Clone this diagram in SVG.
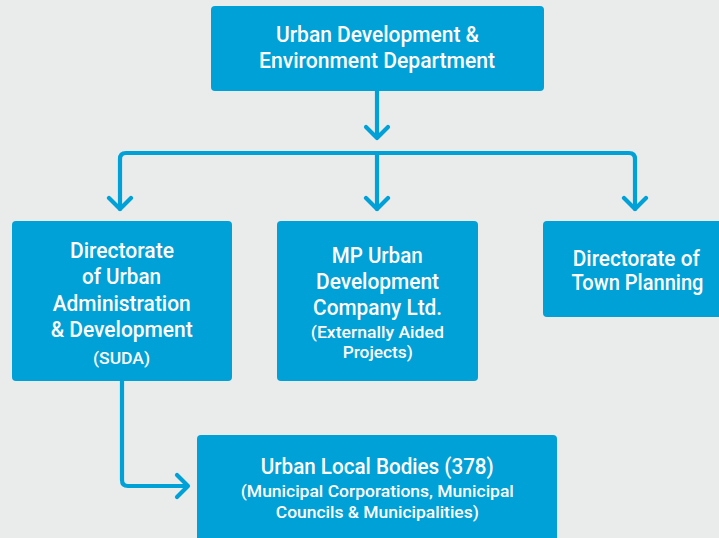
<svg xmlns="http://www.w3.org/2000/svg" width="719" height="538" viewBox="0 0 719 538">
<style>
.box{fill:#00a1d7}
.t{fill:#ffffff;font-family:Roboto,"Liberation Sans",sans-serif;font-weight:500;text-anchor:middle}
.big{font-size:21.5px}
.small{font-size:17px}
.c{fill:none;stroke:#00a1d7;stroke-width:4.2;stroke-linecap:round;stroke-linejoin:round}
</style>
<rect width="719" height="538" fill="#eaebeb"/>
<g id="connectors">
<path class="c" d="M377 91 V138 M366 127 L377 138 L388 127"/>
<path class="c" d="M120 209 V159 Q120 153 126 153 H629 Q635 153 635 159 V209"/>
<path class="c" d="M377 153 V209"/>
<path class="c" d="M109 198 L120 209 L131 198 M366 198 L377 209 L388 198 M624 198 L635 209 L646 198"/>
<path class="c" d="M122 381 V480 Q122 486 128 486 H188 M177 475 L188 486 L177 497"/>
</g>
<g id="node-top">
<rect class="box" x="211" y="6" width="333" height="85" rx="4"/>
<text class="t big" x="377.5" y="41.7" textLength="203" lengthAdjust="spacingAndGlyphs">Urban Development &amp;</text>
<text class="t big" x="377" y="67.7" textLength="236" lengthAdjust="spacingAndGlyphs">Environment Department</text>
</g>
<g id="node-suda">
<rect class="box" x="12" y="221" width="220" height="160" rx="4"/>
<text class="t big" x="122" y="257.7" textLength="104" lengthAdjust="spacingAndGlyphs">Directorate</text>
<text class="t big" x="121.5" y="284" textLength="79" lengthAdjust="spacingAndGlyphs">of Urban</text>
<text class="t big" x="121.7" y="310.7" textLength="138" lengthAdjust="spacingAndGlyphs">Administration</text>
<text class="t big" x="121.7" y="336.7" textLength="142" lengthAdjust="spacingAndGlyphs">&amp; Development</text>
<text class="t small" x="121.5" y="363.5" textLength="57" lengthAdjust="spacingAndGlyphs">(SUDA)</text>
</g>
<g id="node-mpudc">
<rect class="box" x="277" y="221" width="201" height="160" rx="4"/>
<text class="t big" x="377.2" y="263.3" textLength="91" lengthAdjust="spacingAndGlyphs">MP Urban</text>
<text class="t big" x="377.5" y="289.3" textLength="123" lengthAdjust="spacingAndGlyphs">Development</text>
<text class="t big" x="377.6" y="315" textLength="129" lengthAdjust="spacingAndGlyphs">Company Ltd.</text>
<text class="t small" x="377.3" y="337.7" textLength="133" lengthAdjust="spacingAndGlyphs">(Externally Aided</text>
<text class="t small" x="377.7" y="358.3" textLength="70" lengthAdjust="spacingAndGlyphs">Projects)</text>
</g>
<g id="node-town">
<rect class="box" x="543" y="221" width="182" height="96" rx="4"/>
<text class="t big" x="636.3" y="265.7" textLength="127" lengthAdjust="spacingAndGlyphs">Directorate of</text>
<text class="t big" x="637.5" y="290" textLength="132" lengthAdjust="spacingAndGlyphs">Town Planning</text>
</g>
<g id="node-ulb">
<rect class="box" x="197" y="435" width="360" height="110" rx="4"/>
<text class="t big" x="377.3" y="474" textLength="233" lengthAdjust="spacingAndGlyphs">Urban Local Bodies (378)</text>
<text class="t small" x="377.3" y="496.7" textLength="273" lengthAdjust="spacingAndGlyphs">(Municipal Corporations, Municipal</text>
<text class="t small" x="377.3" y="518.3" textLength="203" lengthAdjust="spacingAndGlyphs">Councils &amp; Municipalities)</text>
</g>
</svg>
